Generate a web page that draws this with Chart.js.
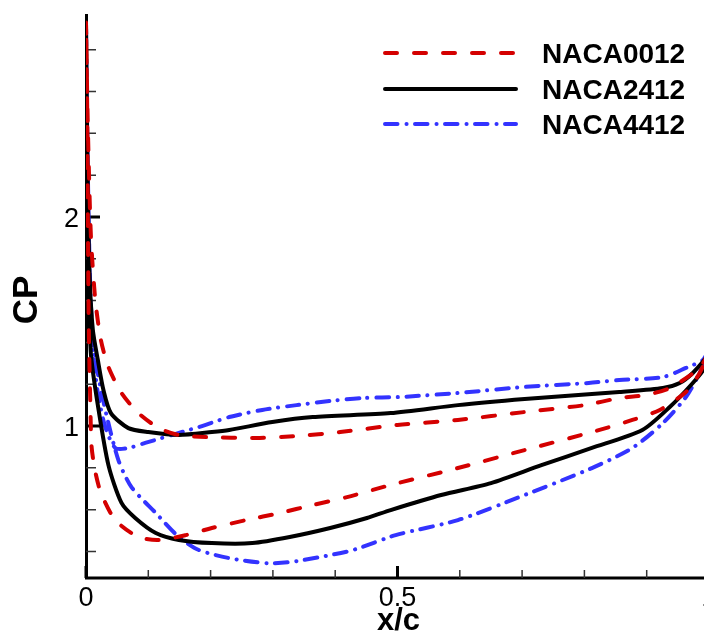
<!DOCTYPE html>
<html>
<head>
<meta charset="utf-8">
<script src="https://cdn.jsdelivr.net/npm/chart.js@4/dist/chart.umd.min.js"></script>
<style>
  html, body { margin: 0; padding: 0; background: #fff; overflow: hidden; }
  #wrap { width: 720px; height: 635px; }
  canvas { display: block; }
</style>
</head>
<body>
<div id="wrap"><canvas id="c" width="720" height="635"></canvas></div>
<script>
// ---------- data ----------
const seriesNames = ['NACA0012', 'NACA2412', 'NACA4412'];

const naca0012X = [1.0, 0.985, 0.937, 0.898, 0.856, 0.801, 0.704, 0.597, 0.500, 0.408, 0.338, 0.273, 0.193, 0.149, 0.117, 0.084, 0.057, 0.036, 0.024, 0.015, 0.008, 0.004, 0.0015, 0.0,
                   0.002, 0.003, 0.004, 0.005, 0.007, 0.009, 0.015, 0.024, 0.047, 0.084, 0.117, 0.160, 0.202, 0.257, 0.311, 0.364, 0.419, 0.489, 0.597, 0.704, 0.812, 0.877, 0.921, 0.963, 0.985, 1.0];
const naca0012Cp = [1.354, 1.278, 1.182, 1.148, 1.134, 1.100, 1.067, 1.029, 1.005, 0.971, 0.952, 0.943, 0.947, 0.957, 0.990, 1.062, 1.158, 1.282, 1.41, 1.60, 1.90, 2.30, 2.65, 2.93,
                    2.50, 2.00, 1.60, 1.37, 1.10, 0.90, 0.78, 0.68, 0.55, 0.469, 0.455, 0.478, 0.512, 0.550, 0.584, 0.622, 0.660, 0.718, 0.799, 0.885, 0.971, 1.029, 1.077, 1.163, 1.254, 1.354];

const naca2412X = [1.0, 0.995, 0.974, 0.953, 0.926, 0.856, 0.812, 0.704, 0.597, 0.489, 0.364, 0.299, 0.230, 0.202, 0.149, 0.100, 0.068, 0.040, 0.028, 0.019, 0.011, 0.006, 0.003, 0.001, 0.0,
                   0.001, 0.002, 0.004, 0.006, 0.008, 0.019, 0.036, 0.057, 0.079, 0.112, 0.149, 0.202, 0.267, 0.327, 0.392, 0.451, 0.489, 0.570, 0.650, 0.731, 0.812, 0.893, 0.937, 0.974, 0.994, 1.0];
const naca2412Cp = [1.35, 1.325, 1.254, 1.206, 1.182, 1.163, 1.153, 1.129, 1.100, 1.062, 1.043, 1.019, 0.981, 0.971, 0.957, 0.971, 0.990, 1.062, 1.172, 1.316, 1.46, 1.70, 2.10, 2.60, 2.93,
                    2.60, 2.20, 1.80, 1.50, 1.34, 1.10, 0.813, 0.632, 0.560, 0.488, 0.455, 0.440, 0.440, 0.469, 0.512, 0.560, 0.598, 0.670, 0.727, 0.813, 0.895, 0.981, 1.091, 1.206, 1.282, 1.35];

const naca4412X = [1.0, 0.990, 0.963, 0.926, 0.856, 0.807, 0.704, 0.597, 0.505, 0.445, 0.392, 0.338, 0.283, 0.230, 0.181, 0.149, 0.095, 0.068, 0.047, 0.031, 0.019, 0.010, 0.006, 0.003, 0.001, 0.0,
                   0.001, 0.003, 0.006, 0.010, 0.015, 0.031, 0.052, 0.073, 0.112, 0.149, 0.181, 0.230, 0.290, 0.327, 0.375, 0.429, 0.497, 0.597, 0.704, 0.812, 0.877, 0.926, 0.963, 0.985, 1.0];
const naca4412Cp = [1.364, 1.316, 1.278, 1.234, 1.220, 1.206, 1.187, 1.158, 1.139, 1.134, 1.120, 1.100, 1.077, 1.043, 0.995, 0.967, 0.919, 0.895, 0.895, 0.995, 1.158, 1.40, 1.70, 2.20, 2.60, 2.93,
                    2.60, 2.20, 1.75, 1.45, 1.316, 1.077, 0.837, 0.708, 0.584, 0.469, 0.407, 0.368, 0.344, 0.349, 0.373, 0.407, 0.478, 0.550, 0.670, 0.799, 0.895, 1.014, 1.139, 1.254, 1.364];

const xTickValues = [0, 0.5, 1];
const xTickLabels = ['0', '0.5', '1'];
const xMinorTicks = [0.1, 0.2, 0.3, 0.4, 0.6, 0.7, 0.8, 0.9];
const yTickValues = [1, 2];
const yTickLabels = ['1', '2'];
const yMinorTicks = [0.4, 0.6, 0.8, 1.2, 1.4, 1.6, 1.8, 2.2, 2.4, 2.6, 2.8];
const xTitle = 'x/c';
const yTitle = 'CP';

// ---------- build ----------
function pts(xs, ys) { return xs.map((x, i) => ({ x: x, y: ys[i] })); }

const FONT = '"Liberation Sans", Arial, Helvetica, sans-serif';

const axesPlugin = {
  id: 'tecplotAxes',
  beforeDatasetsDraw(chart) {
    const ctx = chart.ctx;
    const xs = chart.scales.x, ys = chart.scales.y;
    const a = chart.chartArea;
    ctx.save();
    ctx.strokeStyle = '#000';
    ctx.lineCap = 'butt';
    // axis lines
    ctx.lineWidth = 3;
    ctx.beginPath();
    ctx.moveTo(a.left + 0.5, a.top);
    ctx.lineTo(a.left + 0.5, a.bottom + 1.5);
    ctx.moveTo(a.left - 1, a.bottom);
    ctx.lineTo(chart.width, a.bottom);
    ctx.stroke();
    // major ticks
    ctx.lineWidth = 3;
    ctx.beginPath();
    xTickValues.forEach(v => { const p = xs.getPixelForValue(v); ctx.moveTo(p, a.bottom); ctx.lineTo(p, a.bottom - 12); });
    yTickValues.forEach(v => { const p = ys.getPixelForValue(v); ctx.moveTo(a.left, p); ctx.lineTo(a.left + 14, p); });
    ctx.stroke();
    // minor ticks
    ctx.lineWidth = 1.5;
    ctx.strokeStyle = '#333';
    ctx.beginPath();
    xMinorTicks.forEach(v => { const p = xs.getPixelForValue(v); ctx.moveTo(p, a.bottom); ctx.lineTo(p, a.bottom - 8); });
    yMinorTicks.forEach(v => { const p = ys.getPixelForValue(v); ctx.moveTo(a.left, p); ctx.lineTo(a.left + 10, p); });
    ctx.stroke();
    // tick labels
    ctx.fillStyle = '#000';
    ctx.font = '27px ' + FONT;
    ctx.textBaseline = 'alphabetic';
    ctx.textAlign = 'center';
    xTickValues.forEach((v, i) => ctx.fillText(xTickLabels[i], xs.getPixelForValue(v), a.bottom + 28));
    ctx.textAlign = 'right';
    yTickValues.forEach((v, i) => ctx.fillText(yTickLabels[i], a.left - 7, ys.getPixelForValue(v) + 10));
    // titles
    ctx.font = 'bold 31px ' + FONT;
    ctx.textAlign = 'center';
    ctx.fillText(xTitle, xs.getPixelForValue(0.5) + 1, a.bottom + 52);
    ctx.save();
    ctx.translate(37, 300);
    ctx.rotate(-Math.PI / 2);
    ctx.font = 'bold 35px ' + FONT;
    ctx.textAlign = 'center';
    ctx.fillText(yTitle, 0, 0);
    ctx.restore();
    ctx.restore();
  },
  afterDatasetsDraw(chart) {
    const ctx = chart.ctx;
    const rows = [53, 89, 124];
    ctx.save();
    chart.data.datasets.forEach((ds, i) => {
      const y = rows[i];
      ctx.strokeStyle = ds.borderColor;
      ctx.lineWidth = ds.borderWidth;
      ctx.lineCap = ds.borderCapStyle || 'butt';
      ctx.setLineDash(ds.borderDash || []);
      ctx.beginPath();
      ctx.moveTo(385, y);
      ctx.lineTo(516, y);
      ctx.stroke();
      ctx.setLineDash([]);
      ctx.fillStyle = '#000';
      ctx.font = 'bold 28px ' + FONT;
      ctx.textAlign = 'left';
      ctx.textBaseline = 'alphabetic';
      ctx.fillText(ds.label, 542, y + 10);
    });
    ctx.restore();
  }
};

new Chart(document.getElementById('c'), {
  type: 'scatter',
  data: {
    datasets: [
      { label: seriesNames[0], data: pts(naca0012X, naca0012Cp), showLine: true, pointRadius: 0,
        borderColor: '#d40000', borderWidth: 4, borderDash: [12, 17], borderCapStyle: 'round', tension: 0.25 },
      { label: seriesNames[1], data: pts(naca2412X, naca2412Cp), showLine: true, pointRadius: 0,
        borderColor: '#000000', borderWidth: 4, borderDash: [], borderCapStyle: 'round', tension: 0.25 },
      { label: seriesNames[2], data: pts(naca4412X, naca4412Cp), showLine: true, pointRadius: 0,
        borderColor: '#3333ff', borderWidth: 4, borderDash: [12.5, 9, 0.1, 8.4], borderCapStyle: 'round', tension: 0.25 }
    ]
  },
  options: {
    responsive: false,
    animation: false,
    layout: { padding: { left: 86, right: 11, top: 14, bottom: 57 } },
    plugins: { legend: { display: false }, tooltip: { enabled: false } },
    scales: {
      x: { type: 'linear', min: 0, max: 1, display: false },
      y: { type: 'linear', min: 0.273, max: 2.971, display: false }
    }
  },
  plugins: [axesPlugin]
});
</script>
</body>
</html>
